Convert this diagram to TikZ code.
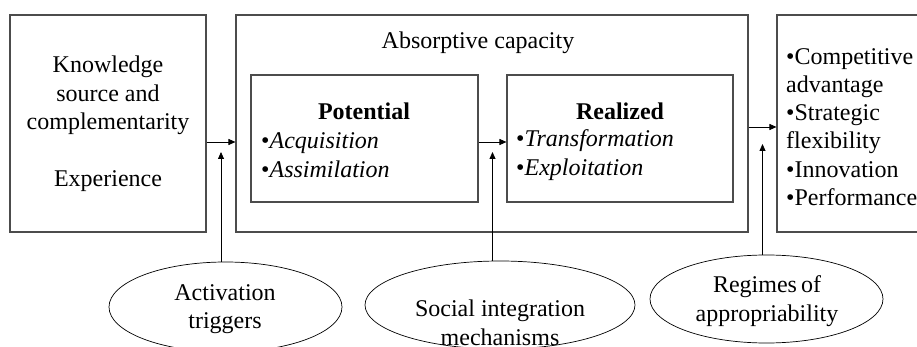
\documentclass[tikz,border=0pt]{standalone}
\usepackage{fontspec}
\setmainfont{Liberation Serif}[ItalicFont = *-Italic, BoldFont = *-Bold]
\usetikzlibrary{arrows.meta, shapes.geometric}

\tikzset{
  box/.style = {draw = black!70, line width = 1.1pt, rectangle, inner sep = 0pt},
  oval/.style = {draw = black, line width = 0.7pt, ellipse, inner sep = 0pt},
  txt/.style = {font = {\fontsize{24}{28.6}\selectfont}, align = center, inner sep = 0pt},
  arr/.style = {-{Triangle[length = 7pt, width = 6pt]}, line width = 0.8pt, black},
}

\begin{document}
\begin{tikzpicture}[x = 1pt, y = -1pt]
        \useasboundingbox (0,0) rectangle (917,347);
        \clip (0,0) rectangle (917,347);

        % boxes
        \node[box, minimum width = 196pt, minimum height = 217pt] (know) at (108,123.5) {};
        \node[txt] (knowtext) at (108,124) {Knowledge\\source and\\complementarity\\[28.6pt]Experience};

        \node[box, minimum width = 512pt, minimum height = 217pt] (absorb) at (492,123.5) {};
        \node[txt] (abstitle) at (478,43) {Absorptive capacity};

        \node[box, minimum width = 227pt, minimum height = 127pt] (pot) at (364.5,138.5) {};
        \node[txt, font = {\fontsize{24}{28.6}\selectfont\bfseries}] (pottitle) at (364,111) {Potential};
        \node[txt, anchor = west, align = left] (potlist) at (261,155) {•\textit{Acquisition}\\•\textit{Assimilation}};

        \node[box, minimum width = 226pt, minimum height = 127pt] (real) at (620,138.5) {};
        \node[txt, font = {\fontsize{24}{28.6}\selectfont\bfseries}] (realtitle) at (620,111) {Realized};
        \node[txt, anchor = west, align = left] (reallist) at (516,155) {•\textit{Transformation}\\•\textit{Exploitation}};

        \node[box, minimum width = 173pt, minimum height = 217pt] (outc) at (863.5,123.5) {};
        \node[txt, anchor = west, align = left, font = {\fontsize{24}{28.2}\selectfont}] (outtext) at (786,127)
            {•Competitive\\advantage\\•Strategic\\flexibility\\•Innovation\\•Performance};

        % moderators
        \node[oval, minimum width = 233pt, minimum height = 90pt] (act) at (225.5,307) {};
        \node[txt] (acttext) at (225,309) {Activation\\triggers};

        \node[oval, minimum width = 270pt, minimum height = 88pt] (soc) at (500,305) {};
        \node[txt] (soctext) at (500,323) {Social integration\\mechanisms};

        \node[oval, minimum width = 233pt, minimum height = 88pt] (reg) at (766.5,299) {};
        \node[txt] (regtext) at (767,301) {Regimes\,of\\appropriability};

        % connectors
        \coordinate (h1) at (0,142);
        \coordinate (h2) at (0,127);
        \coordinate (tA) at (221,152);
        \coordinate (tB) at (492.5,152);
        \coordinate (tC) at (762.5,144);

        \draw[arr] (know.east |- h1) -- (absorb.west |- h1);
        \draw[arr] (pot.east |- h1) -- (real.west |- h1);
        \draw[arr] (absorb.east |- h2) -- (outc.west |- h2);

        \draw[arr] (tA |- act.north) -- (tA);
        \draw[arr] (tB |- soc.north) -- (tB);
        \draw[arr] (tC |- reg.north) -- (tC);
    \end{tikzpicture}
\end{document}
